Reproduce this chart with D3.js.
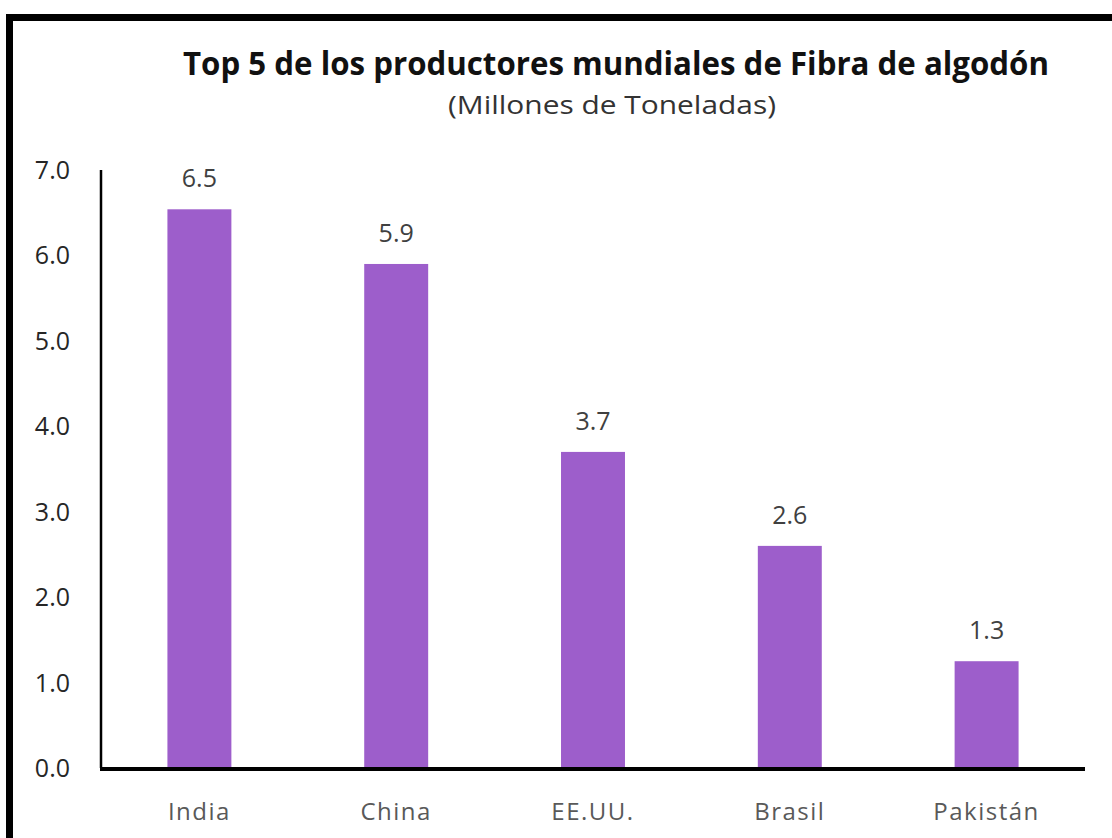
<!DOCTYPE html>
<html>
<head>
<meta charset="utf-8">
<script src="https://cdn.jsdelivr.net/npm/d3@7"></script>
<style>
  body { margin: 0; background: #fff; }
  svg { display: block; }
</style>
</head>
<body>
<svg id="svg"></svg>
<script>
// chart data
const countries = ["India", "China", "EE.UU.", "Brasil", "Pakistán"];
const production = [6.54, 5.9, 3.7, 2.6, 1.25];
const yTicks = [0, 1, 2, 3, 4, 5, 6, 7];
const titleText = "Top 5 de los productores mundiales de Fibra de algodón";
const subtitleText = "(Millones de Toneladas)";

const width = 1112;
const height = 838;
const font = "'Open Sans', 'DejaVu Sans', sans-serif";
let svg = d3.select("#svg").attr("width", width).attr("height", height);

// frame (right and bottom edges fall outside the picture)
svg.append("rect")
    .attr("x", 9.5).attr("y", 17.5)
    .attr("width", 1300).attr("height", 1000)
    .attr("fill", "none")
    .attr("stroke", "#000")
    .attr("stroke-width", 7);

const plot = { left: 101, right: 1085, top: 170, bottom: 768 };

let xScale = d3.scaleBand()
    .domain(countries)
    .range([plot.left, plot.right])
    .paddingInner(0.675)
    .paddingOuter(0.3375);

let yScale = d3.scaleLinear()
    .domain([0, 7])
    .range([plot.bottom, plot.top]);

// titles
svg.append("text")
    .attr("x", 616).attr("y", 75)
    .attr("text-anchor", "middle")
    .attr("font-family", font)
    .attr("font-weight", "bold")
    .attr("font-size", 32)
    .attr("fill", "#111")
    .attr("textLength", 866)
    .attr("lengthAdjust", "spacingAndGlyphs")
    .text(titleText);

svg.append("text")
    .attr("x", 612).attr("y", 114)
    .attr("text-anchor", "middle")
    .attr("font-family", font)
    .attr("font-size", 25)
    .attr("fill", "#333")
    .attr("textLength", 328)
    .attr("lengthAdjust", "spacingAndGlyphs")
    .text(subtitleText);

// y tick labels
svg.append("g")
    .selectAll("text")
    .data(yTicks)
    .join("text")
    .attr("x", 70)
    .attr("y", d => yScale(d))
    .attr("dy", "0.36em")
    .attr("text-anchor", "end")
    .attr("font-family", font)
    .attr("font-size", 25)
    .attr("fill", "#262626")
    .text(d => d3.format(".1f")(d));

// bars
svg.append("g")
    .selectAll("rect")
    .data(production)
    .join("rect")
    .attr("x", (d, i) => xScale(countries[i]))
    .attr("y", d => yScale(d))
    .attr("width", xScale.bandwidth())
    .attr("height", d => yScale(0) - yScale(d))
    .attr("fill", "#9d5ecb");

// value labels
svg.append("g")
    .selectAll("text")
    .data(production)
    .join("text")
    .attr("x", (d, i) => xScale(countries[i]) + xScale.bandwidth() / 2)
    .attr("y", d => yScale(d) - 22)
    .attr("text-anchor", "middle")
    .attr("font-family", font)
    .attr("font-size", 25)
    .attr("fill", "#404040")
    .text(d => d3.format(".1f")(d));

// axes lines
svg.append("line")
    .attr("x1", plot.left).attr("x2", plot.left)
    .attr("y1", plot.top).attr("y2", plot.bottom)
    .attr("stroke", "#000").attr("stroke-width", 2.5);

svg.append("line")
    .attr("x1", plot.left - 1).attr("x2", plot.right)
    .attr("y1", plot.bottom + 1).attr("y2", plot.bottom + 1)
    .attr("stroke", "#000").attr("stroke-width", 4);

// category labels
svg.append("g")
    .selectAll("text")
    .data(countries)
    .join("text")
    .attr("x", d => xScale(d) + xScale.bandwidth() / 2)
    .attr("y", 820)
    .attr("text-anchor", "middle")
    .attr("font-family", font)
    .attr("font-size", 24)
    .attr("letter-spacing", 1.5)
    .attr("fill", "#595959")
    .text(d => d);
</script>
</body>
</html>
